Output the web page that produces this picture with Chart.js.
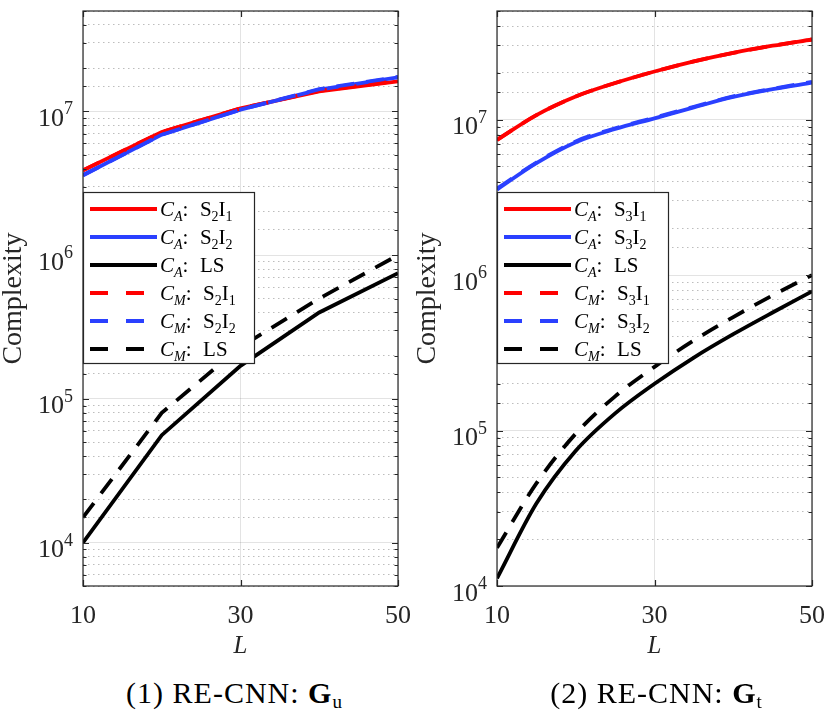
<!DOCTYPE html>
<html>
<head>
<meta charset="utf-8">
<script src="https://cdn.jsdelivr.net/npm/chart.js@4.4.1/dist/chart.umd.min.js"></script>
<style>
  body { margin: 0; background: #fff; width: 831px; height: 711px; position: relative; overflow: hidden;
         font-family: "Liberation Serif", "Times New Roman", serif; }
  canvas { position: absolute; top: 0; }
  #c1 { left: 0; }
  #c2 { left: 414px; }
  .cap { position: absolute; top: 678px; font-size: 30px; line-height: 30px; letter-spacing: 1px;
         text-align: center; color: #000; }
  .cap sub { font-size: 19px; vertical-align: -5px; line-height: 0; letter-spacing: 0; }
</style>
</head>
<body>
<canvas id="c1" width="415" height="660"></canvas>
<canvas id="c2" width="415" height="660"></canvas>
<div class="cap" style="left:0;width:468px;">(1) RE-CNN: <b>G</b><sub>u</sub></div>
<div class="cap" style="left:456px;width:400px;">(2) RE-CNN: <b>G</b><sub>t</sub></div>
<script>
// ---- data ----
const L_left = [10, 20, 30, 40, 50];
const leftA_S2I1 = [3.9e6, 7.2e6, 1.05e7, 1.38e7, 1.62e7];
const leftA_S2I2 = [3.6e6, 6.9e6, 1.03e7, 1.42e7, 1.73e7];
const leftA_LS   = [1.0e4, 5.6e4, 1.7e5, 4.0e5, 7.5e5];
const leftM_S2I1 = [3.9e6, 7.2e6, 1.05e7, 1.39e7, 1.63e7];
const leftM_S2I2 = [3.6e6, 6.9e6, 1.03e7, 1.43e7, 1.74e7];
const leftM_LS   = [1.5e4, 8.0e4, 2.3e5, 5.0e5, 1.0e6];

const L_right = [10, 15, 20, 25, 30, 35, 40, 45, 50];
const rightA_S3I1 = [7.41e6, 1.07e7, 1.41e7, 1.72e7, 2.04e7, 2.37e7, 2.69e7, 2.99e7, 3.28e7];
const rightA_S3I2 = [3.55e6, 5.25e6, 7.16e6, 8.71e6, 1.02e7, 1.2e7, 1.4e7, 1.57e7, 1.73e7];
const rightA_LS   = [1.12e4, 3.39e4, 7.41e4, 1.29e5, 2.0e5, 2.95e5, 4.17e5, 5.75e5, 7.85e5];
const rightM_S3I1 = [7.41e6, 1.07e7, 1.41e7, 1.72e7, 2.04e7, 2.37e7, 2.69e7, 2.99e7, 3.28e7];
const rightM_S3I2 = [3.6e6, 5.3e6, 7.25e6, 8.8e6, 1.03e7, 1.21e7, 1.41e7, 1.58e7, 1.75e7];
const rightM_LS   = [1.76e4, 4.57e4, 9.55e4, 1.66e5, 2.57e5, 3.8e5, 5.37e5, 7.41e5, 1.0e6];

const leftLabels  = ['C_A: S_2I_1', 'C_A: S_2I_2', 'C_A: LS', 'C_M: S_2I_1', 'C_M: S_2I_2', 'C_M: LS'];
const rightLabels = ['C_A: S_3I_1', 'C_A: S_3I_2', 'C_A: LS', 'C_M: S_3I_1', 'C_M: S_3I_2', 'C_M: LS'];
const xTicks = [10, 30, 50];

// ---- styles ----
const FONT = '"Liberation Serif", "Times New Roman", serif';
const colors = ['#ff0000', '#2a40ff', '#000000', '#ff0000', '#2a40ff', '#000000'];
const dashed = [false, false, false, true, true, true];

const isPow10 = v => v > 0 && Math.abs(Math.log10(v) - Math.round(Math.log10(v))) < 1e-9;

function drawRich(ctx, x, y, s, size) {
  let cx = x;
  for (let i = 0; i < s.length; i++) {
    const ch = s[i];
    if (ch === '_') {
      const sub = s[i + 1];
      const ital = i === 1;
      ctx.font = (ital ? 'italic ' : '') + Math.round(size * 0.68) + 'px ' + FONT;
      ctx.fillText(sub, cx, y + size * 0.22);
      cx += ctx.measureText(sub).width;
      i++;
      continue;
    }
    ctx.font = (i === 0 ? 'italic ' : '') + size + 'px ' + FONT;
    ctx.fillText(ch, cx, y);
    cx += ctx.measureText(ch).width + (ch === ':' ? size * 0.3 : 0);
  }
}

// frame, inner ticks, y labels with exponents, legend box
const matlabAxes = {
  id: 'matlabAxes',
  afterDatasetsDraw(chart, args, opts) {
    const { ctx, chartArea: a, scales: { x, y } } = chart;
    ctx.save();
    ctx.strokeStyle = '#262626';
    ctx.lineWidth = 1.2;
    ctx.setLineDash([]);
    ctx.strokeRect(a.left, a.top, a.width, a.height);
    ctx.beginPath();
    y.ticks.forEach(t => {
      const py = Math.round(y.getPixelForValue(t.value)) + 0.5;
      const len = isPow10(t.value) ? 6 : 3.5;
      ctx.moveTo(a.left, py); ctx.lineTo(a.left + len, py);
      ctx.moveTo(a.right, py); ctx.lineTo(a.right - len, py);
    });
    xTicks.forEach(v => {
      const px = Math.round(x.getPixelForValue(v)) + 0.5;
      ctx.moveTo(px, a.bottom); ctx.lineTo(px, a.bottom - 6);
      ctx.moveTo(px, a.top); ctx.lineTo(px, a.top + 6);
    });
    ctx.stroke();

    // y tick labels 10^n
    ctx.fillStyle = '#262626';
    ctx.textBaseline = 'alphabetic';
    y.ticks.forEach(t => {
      if (!isPow10(t.value)) return;
      const py = y.getPixelForValue(t.value);
      const e = String(Math.round(Math.log10(t.value)));
      ctx.textAlign = 'right';
      ctx.font = '18px ' + FONT;
      ctx.fillText(e, a.left - 10, py + 3);
      const ew = ctx.measureText(e).width;
      ctx.font = '26px ' + FONT;
      ctx.fillText('10', a.left - 10 - ew, py + 14.5);
    });

    // legend
    const lx = a.left, ly = 192, lw = 172, lh = 172;
    ctx.fillStyle = '#fff';
    ctx.fillRect(lx, ly, lw, lh);
    ctx.strokeStyle = '#262626';
    ctx.lineWidth = 1.2;
    ctx.strokeRect(lx + 0.5, ly + 0.5, lw - 1, lh - 1);
    ctx.textAlign = 'left';
    opts.labels.forEach((lab, i) => {
      const cy = ly + 17 + i * 28;
      ctx.strokeStyle = colors[i];
      ctx.lineWidth = 4;
      ctx.setLineDash(dashed[i] ? [18, 18] : []);
      ctx.beginPath();
      ctx.moveTo(lx + 7, cy); ctx.lineTo(lx + 74, cy);
      ctx.stroke();
      ctx.setLineDash([]);
      ctx.fillStyle = '#000';
      drawRich(ctx, lx + 77, cy + 7, lab, 21);
    });
    ctx.restore();
  }
};

function makeChart(id, xs, series, labels, yMin, smooth) {
  const datasets = series.map((vals, i) => ({
    data: vals.map((v, k) => ({ x: xs[k], y: v })),
    borderColor: colors[i],
    borderWidth: 3.8,
    borderDash: dashed[i] ? [18, 12] : [],
    pointRadius: 0,
    fill: false,
    tension: smooth ? 0.4 : 0,
    cubicInterpolationMode: smooth ? 'monotone' : 'default',
    order: 5 - i
  }));
  return new Chart(document.getElementById(id), {
    type: 'line',
    data: { datasets },
    plugins: [matlabAxes],
    options: {
      responsive: false,
      animation: false,
      events: [],
      layout: { padding: { top: 11, right: 17, left: 0, bottom: 0 } },
      plugins: { legend: { display: false }, tooltip: { enabled: false }, matlabAxes: { labels } },
      scales: {
        x: {
          type: 'linear', min: 10, max: 50,
          afterBuildTicks: s => { s.ticks = xTicks.map(v => ({ value: v })); },
          afterFit: s => { s.height = 74; s.paddingLeft = 0; s.paddingRight = 0; },
          ticks: { color: '#262626', font: { family: FONT, size: 26 }, padding: 15, maxRotation: 0 },
          grid: { color: 'rgba(38,38,38,0.13)', lineWidth: 1, drawTicks: false },
          border: { display: false },
          title: { display: true, text: 'L', color: '#262626',
                   font: { family: FONT, size: 25, style: 'italic', lineHeight: 1 }, padding: { top: 0, bottom: 1 } }
        },
        y: {
          type: 'logarithmic', min: yMin, max: 5e7,
          afterFit: s => { s.width = 83; s.paddingTop = 0; s.paddingBottom = 0; },
          ticks: { display: false, autoSkip: false },
          grid: {
            color: c => (c.tick && isPow10(c.tick.value)) ? 'rgba(38,38,38,0.13)' : 'rgba(38,38,38,0.3)',
            lineWidth: 1, drawTicks: false
          },
          border: { display: false, dash: c => (c.tick && isPow10(c.tick.value)) ? [] : [1.5, 3.5] },
          title: { display: true, text: 'Complexity', color: '#262626',
                   font: { family: FONT, size: 28, lineHeight: 1 }, padding: 0 }
        }
      }
    }
  });
}

makeChart('c1', L_left, [leftA_S2I1, leftA_S2I2, leftA_LS, leftM_S2I1, leftM_S2I2, leftM_LS], leftLabels, 5e3, false);
makeChart('c2', L_right, [rightA_S3I1, rightA_S3I2, rightA_LS, rightM_S3I1, rightM_S3I2, rightM_LS], rightLabels, 1e4, true);
</script>
</body>
</html>
